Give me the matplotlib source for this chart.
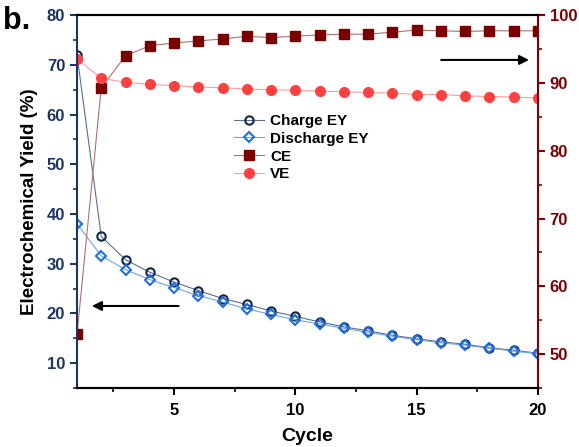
import matplotlib
matplotlib.use('Agg')
import matplotlib.pyplot as plt
from matplotlib.ticker import MultipleLocator

plt.rcParams['font.family'] = ['Liberation Sans', 'DejaVu Sans']
plt.rcParams['font.weight'] = 'bold'

# data
cycles = list(range(1, 21))
charge_ey = [72.0, 35.5, 30.8, 28.3, 26.3, 24.6, 23.0, 21.8, 20.5, 19.4,
             18.3, 17.3, 16.5, 15.6, 14.9, 14.3, 13.8, 13.1, 12.6, 12.0]
discharge_ey = [38.0, 31.6, 28.8, 26.8, 25.2, 23.6, 22.3, 20.9, 19.8, 18.7,
                17.9, 17.0, 16.2, 15.4, 14.7, 14.1, 13.6, 13.0, 12.4, 11.9]
ce = [52.9, 89.3, 94.0, 95.5, 95.9, 96.2, 96.5, 96.9, 96.7, 96.9,
      97.1, 97.2, 97.2, 97.5, 97.8, 97.7, 97.6, 97.7, 97.7, 97.7]
ve = [93.5, 90.7, 90.1, 89.8, 89.6, 89.4, 89.3, 89.1, 89.0, 88.9,
      88.8, 88.7, 88.6, 88.5, 88.3, 88.3, 88.1, 88.0, 87.9, 87.8]

navy = '#1b3564'
dred = '#800000'

fig = plt.figure(figsize=(5.79, 4.47), dpi=100)
ax = fig.add_axes([0.133, 0.132, 0.796, 0.834])
ax2 = ax.twinx()

l1, = ax.plot(cycles, charge_ey, color='#5a6f8f', lw=0.8, marker='o', ms=6,
              mfc='none', mec='#10254d', mew=1.5, label='Charge EY')
l2, = ax.plot(cycles, discharge_ey, color='#6fa3ea', lw=0.8, marker='D', ms=5.5,
              mfc='none', mec='#1f6fe0', mew=1.5, label='Discharge EY')
l3, = ax2.plot(cycles, ce, color='#b07070', lw=0.8, marker='s', ms=6.5,
               mfc='#7a0000', mec='#7a0000', label='CE')
l4, = ax2.plot(cycles, ve, color='#ff9a9a', lw=0.8, marker='o', ms=7,
               mfc='#ff4040', mec='#ff4040', label='VE')

ax.set_xlim(1, 20)
ax.set_ylim(5, 80)
ax2.set_ylim(45, 100)

ax.xaxis.set_major_locator(MultipleLocator(5))
ax.xaxis.set_minor_locator(MultipleLocator(2.5))
ax.yaxis.set_major_locator(MultipleLocator(10))
ax.yaxis.set_minor_locator(MultipleLocator(5))
ax2.yaxis.set_major_locator(MultipleLocator(10))
ax2.yaxis.set_minor_locator(MultipleLocator(5))

for a in (ax, ax2):
    for s in a.spines.values():
        s.set_linewidth(1.5)
ax2.spines['left'].set_color(navy)
ax2.spines['right'].set_color(dred)
ax2.spines['top'].set_color('black')
ax2.spines['bottom'].set_color('black')
ax.spines['left'].set_visible(False)
ax.spines['right'].set_visible(False)

ax.tick_params(axis='x', which='major', direction='out', length=5, width=1.5,
               labelsize=12, pad=6)
ax.tick_params(axis='x', which='minor', direction='out', length=3, width=1.2)
ax.tick_params(axis='y', which='major', direction='out', length=5, width=1.5,
               labelsize=12, color=navy, labelcolor=navy)
ax.tick_params(axis='y', which='minor', direction='out', length=3, width=1.2,
               color=navy)
ax2.tick_params(axis='y', which='major', direction='out', length=5, width=1.5,
                labelsize=12, color=dred, labelcolor=dred)
ax2.tick_params(axis='y', which='minor', direction='out', length=3, width=1.2,
                color=dred)
for lab in ax.get_xticklabels() + ax.get_yticklabels() + ax2.get_yticklabels():
    lab.set_fontweight('bold')

ax.set_xlabel('Cycle', fontsize=14, fontweight='bold', labelpad=7)
ax.set_ylabel('Electrochemical Yield (%)', fontsize=13.5, fontweight='bold',
              labelpad=6)

ax2.legend(handles=[l1, l2, l3, l4], loc='upper left',
           bbox_to_anchor=(0.31, 0.772), frameon=False,
           handlelength=2.0, handletextpad=0.4, labelspacing=0.25,
           prop={'weight': 'bold', 'size': 11})

ax.annotate('', xy=(1.5, 21.5), xytext=(5.3, 21.5),
            arrowprops=dict(arrowstyle='-|>', color='black', lw=1.5,
                            mutation_scale=14))
ax2.annotate('', xy=(19.75, 93.4), xytext=(15.9, 93.4),
             arrowprops=dict(arrowstyle='-|>', color='black', lw=1.5,
                             mutation_scale=14))

fig.text(0.005, 0.935, 'b.', fontsize=22, fontweight='bold')

fig.savefig('out.png', dpi=100)
